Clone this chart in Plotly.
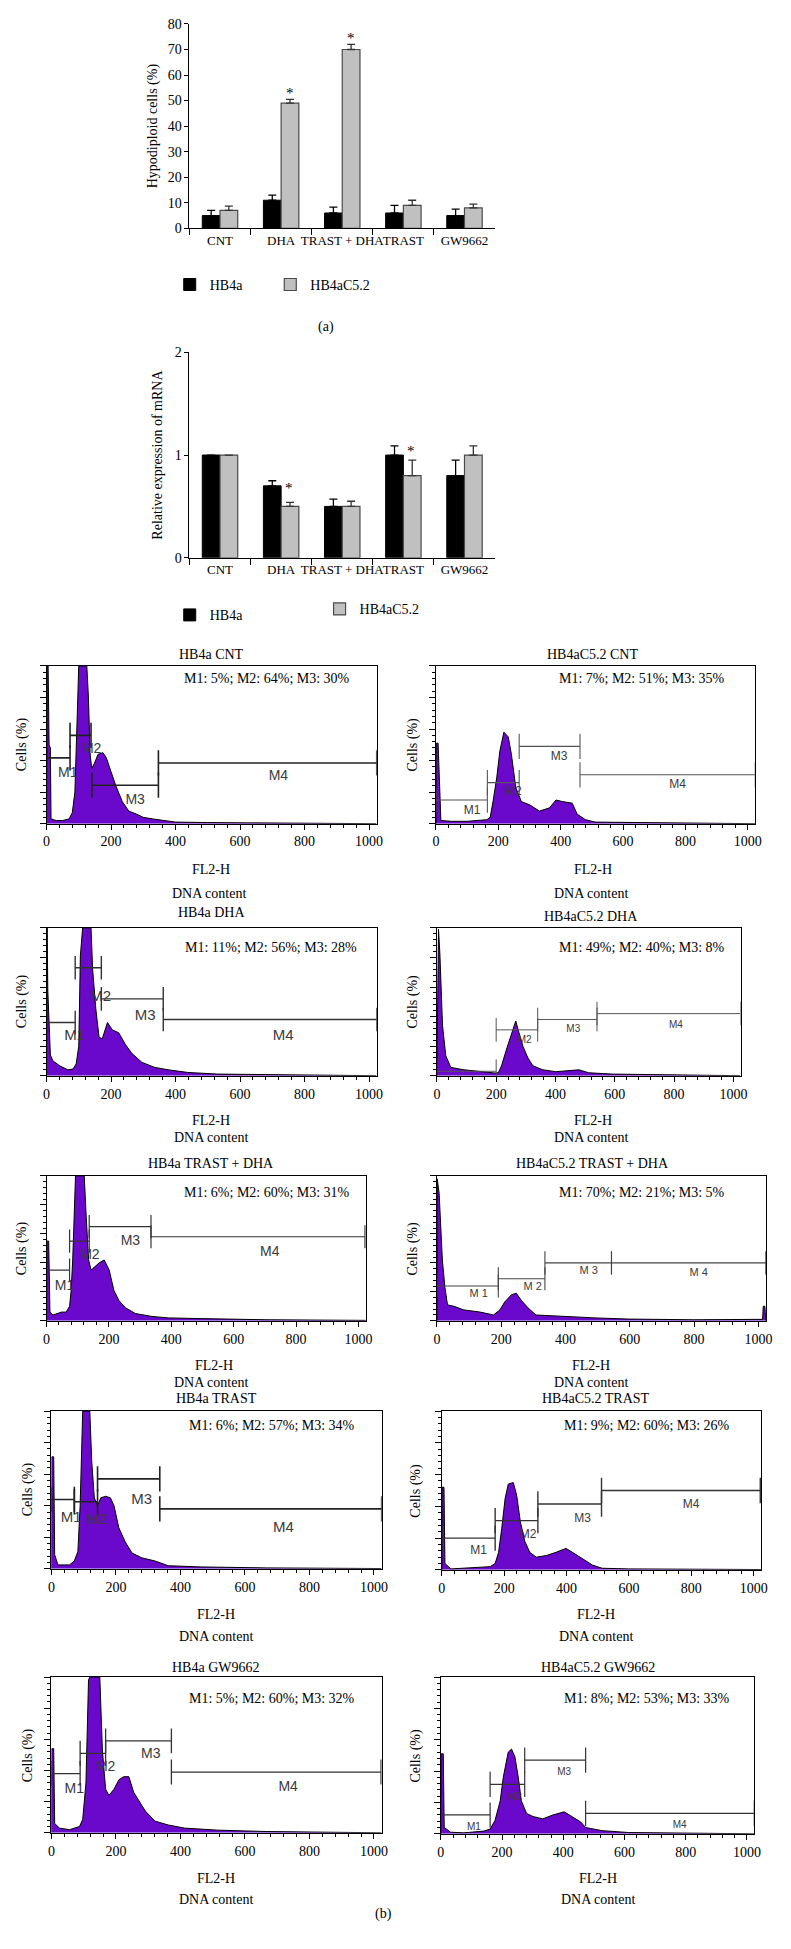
import plotly.graph_objects as go

W, H = 791, 1949
OFF = 8                      # default body margin of the html page
WF, HF = W - 2 * OFF, H - 2 * OFF
SERIF = "Liberation Serif"
SANS = "Liberation Sans"
PURPLE = "#6A08CC"

# ---------------- bar chart data ----------------
categories = ["CNT", "DHA", "TRAST + DHA", "TRAST", "GW9662"]
hypo_hb4a = [5, 11, 6, 6, 5]
hypo_hb4a_err = [2, 2, 2.3, 3, 2.5]
hypo_c52 = [7, 49, 70, 9, 8]
hypo_c52_err = [1.7, 1.5, 2, 2, 1.5]
mrna_hb4a = [1.0, 0.70, 0.50, 1.0, 0.80]
mrna_hb4a_err = [0, 0.05, 0.07, 0.09, 0.15]
mrna_c52 = [1.0, 0.50, 0.50, 0.80, 1.0]
mrna_c52_err = [0, 0.04, 0.05, 0.15, 0.09]
hypo_sig = ["DHA", "TRAST + DHA"]
hypo_sig_y = [53, 74.5]
mrna_sig = ["DHA", "TRAST"]
mrna_sig_y = [0.68, 1.04]

# ---------------- histogram data (channel, % of panel height) ----------------
hb4a_cnt_ch = [0, 2, 5, 8, 12, 14, 30, 50, 70, 80, 88, 95, 100, 125, 130, 135, 140, 148, 160, 175, 185, 200, 215, 235, 255, 280, 300, 330, 360, 400, 500, 700, 1023, 1023]
hb4a_cnt_pct = [0, 100, 100, 50, 48, 3, 2, 2, 3, 7, 20, 75, 100, 100, 80, 45, 35, 38, 44, 45, 42, 33, 24, 14, 8, 6, 4, 3, 2, 1, 0.7, 0.4, 0.2, 0]
hb4a_cnt_gates = [(0, 73, 41.7), (73, 138, 56), (141, 347, 24.4), (347, 1024, 38.5)]

c52_cnt_ch = [0, 1, 7, 16, 50, 100, 163, 174, 184, 195, 205, 218, 232, 242, 256, 274, 300, 332, 364, 385, 406, 437, 453, 480, 511, 616, 1023, 1023]
c52_cnt_pct = [0, 51, 51, 2, 1.5, 1.5, 2.5, 4, 15, 29, 46, 58, 55, 44, 23, 14, 12, 8, 10, 15, 14, 13, 6, 2.5, 1, 0.8, 0.3, 0]
c52_cnt_gates = [(0, 165, 15), (165, 267, 26), (267, 462, 49), (462, 1024, 31)]

hb4a_dha_ch = [0, 2, 4, 8, 12, 20, 41, 66, 82, 92, 100, 105, 112, 138, 143, 153, 163, 173, 189, 204, 224, 245, 265, 296, 336, 377, 438, 530, 683, 1023, 1023]
hb4a_dha_pct = [0, 100, 58, 40, 14, 10, 6.7, 4, 4.5, 8, 20, 81, 100, 100, 72, 45, 26, 25, 36, 31, 29, 21, 15, 9, 5.6, 4, 2.2, 1.1, 0.7, 0.2, 0]
hb4a_dha_gates = [(0, 89, 36), (89, 170, 73), (170, 362, 52), (362, 1024, 38)]

c52_dha_ch = [0, 3, 5.5, 10, 19, 30, 47, 91, 146, 196, 207, 218, 235, 252, 266, 277, 290, 307, 324, 357, 401, 479, 512, 590, 756, 1023, 1023]
c52_dha_pct = [0, 49, 99, 83, 34, 13.5, 5.6, 4, 2.7, 1.8, 2, 6.7, 18, 29, 37, 29, 20, 12, 6.7, 4, 2.7, 4, 2, 1.1, 0.7, 0.2, 0]
c52_dha_gates = [(0, 200, 3), (200, 340, 31), (340, 540, 38), (540, 1024, 42)]

hb4a_td_ch = [0, 1, 7, 11, 21, 48, 63, 74, 79, 84, 93, 121, 127, 135, 143, 153, 169, 185, 201, 216, 232, 253, 285, 338, 391, 496, 707, 1023, 1023]
hb4a_td_pct = [0, 55, 55, 6, 4, 6, 6, 10, 21, 42, 100, 100, 73, 42, 35, 37, 40, 42, 35, 21, 14, 9, 5, 3, 2, 1.5, 0.7, 0.3, 0]
hb4a_td_gates = [(0, 74, 35), (74, 137, 55), (137, 335, 65), (335, 1021, 58)]

c52_td_ch = [0, 1, 7, 12, 17, 25, 33, 53, 84, 135, 176, 196, 211, 232, 247, 263, 283, 308, 390, 492, 594, 799, 1013, 1015, 1020, 1023]
c52_td_pct = [0, 98, 88, 60, 42, 23, 11, 10, 7.5, 6, 4, 7.5, 13, 18, 19, 14, 9, 4, 3, 2, 1.2, 0.7, 1, 10, 10, 0]
c52_td_gates = [(0, 191, 24), (191, 336, 29), (336, 543, 40), (543, 1023, 40)]

hb4a_trast_ch = [0, 1, 7, 10, 20, 56, 71, 82, 89, 97, 119, 125, 133, 143, 153, 168, 183, 194, 209, 229, 250, 280, 321, 362, 464, 668, 1023, 1023]
hb4a_trast_pct = [0, 71, 71, 9, 2.5, 2.5, 5, 11, 40, 100, 100, 68, 45, 40, 45, 46, 45, 40, 26, 17, 10, 7, 5, 2, 1.2, 0.6, 0.2, 0]
hb4a_trast_gates = [(0, 71, 44), (71, 143, 42.5), (143, 336, 57), (336, 1024, 38)]

c52_trast_ch = [0, 1, 7, 10, 29, 71, 155, 171, 182, 192, 203, 213, 229, 240, 252, 266, 282, 303, 335, 366, 398, 419, 451, 483, 514, 599, 1023, 1023]
c52_trast_pct = [0, 52, 52, 4, 0.6, 1, 2, 4, 11, 26, 45, 54, 55, 47, 30, 18, 11, 8, 9, 11, 13.5, 11, 7, 3, 1, 0.6, 0.2, 0]
c52_trast_gates = [(0, 171, 20), (171, 308, 31), (308, 512, 41.5), (512, 1021, 50)]

hb4a_gw_ch = [0, 1, 7, 10, 25, 56, 87, 97, 107, 115, 119, 150, 158, 168, 178, 194, 209, 224, 240, 255, 270, 291, 321, 362, 413, 515, 668, 1023, 1023]
hb4a_gw_pct = [0, 54, 54, 6, 3, 2, 4, 8.5, 32, 98, 100, 100, 53, 28, 24, 28, 34, 36, 36, 26, 21, 14, 7.5, 5, 3, 1.7, 0.8, 0.3, 0]
hb4a_gw_gates = [(0, 89, 38), (89, 168, 51), (168, 372, 59), (372, 1022, 39)]

c52_gw_ch = [0, 1, 8, 11, 32, 75, 140, 161, 177, 194, 204, 220, 231, 242, 253, 263, 280, 301, 333, 366, 403, 430, 457, 473, 505, 527, 613, 1023, 1023]
c52_gw_pct = [0, 51, 51, 4, 1, 0.6, 1.7, 3, 8.5, 21, 36, 52, 54, 49, 36, 21, 13, 11, 9.5, 12, 14, 11, 7.5, 4, 3, 2, 0.8, 0.3, 0]
c52_gw_gates = [(0, 161, 12), (161, 274, 31.5), (274, 473, 47), (473, 1024, 13)]

# ---------------- panel layout (pixel boxes, text spots) ----------------
panels = [
    dict(title="HB4a CNT", stats="M1: 5%; M2: 64%; M3: 30%", ch=hb4a_cnt_ch, pct=hb4a_cnt_pct, gates=hb4a_cnt_gates,
         labels=[("M1", 66, 32), ("M2", 140, 47), ("M3", 275, 15), ("M4", 719, 30)],
         box=(43, 378, 664, 823), t=(210, 653), s=(267, 677), f=(210, 869), d=(208, 893), c=(18, 743),
         gcol="#222222", gw=1.6, lfs=14),
    dict(title="HB4aC5.2 CNT", stats="M1: 7%; M2: 51%; M3: 35%", ch=c52_cnt_ch, pct=c52_cnt_pct, gates=c52_cnt_gates,
         labels=[("M1", 116, 8), ("M2", 248, 20), ("M3", 395, 42), ("M4", 775, 24.5)],
         box=(438, 762, 664, 823), t=(597, 653), s=(647, 677), f=(597, 869), d=(595, 893), c=(415, 743),
         gcol="#555555", gw=1.1, lfs=12),
    dict(title="HB4a DHA", stats="M1: 11%; M2: 56%; M3: 28%", ch=hb4a_dha_ch, pct=hb4a_dha_pct, gates=hb4a_dha_gates,
         labels=[("M1", 87, 27), ("M2", 168, 53), ("M3", 306, 40), ("M4", 734, 27)],
         box=(43, 378, 928, 1077), t=(210, 913), s=(271, 948), f=(210, 1122), d=(210, 1139), c=(18, 1002),
         gcol="#333333", gw=1.4, lfs=15),
    dict(title="HB4aC5.2 DHA", stats="M1: 49%; M2: 40%; M3: 8%", ch=c52_dha_ch, pct=c52_dha_pct, gates=c52_dha_gates,
         labels=[("M2", 296, 24), ("M3", 460, 31), ("M4", 806, 34)],
         box=(439, 747, 928, 1077), t=(595, 917), s=(647, 948), f=(597, 1122), d=(595, 1139), c=(415, 1002),
         gcol="#555555", gw=1.0, lfs=10),
    dict(title="HB4a TRAST + DHA", stats="M1: 6%; M2: 60%; M3: 31%", ch=hb4a_td_ch, pct=hb4a_td_pct, gates=hb4a_td_gates,
         labels=[("M1", 58, 24), ("M2", 139, 45), ("M3", 269, 55), ("M4", 716, 47)],
         box=(43, 367, 1178, 1324), t=(210, 1165), s=(267, 1195), f=(213, 1369), d=(210, 1386), c=(18, 1251),
         gcol="#333333", gw=1.2, lfs=14),
    dict(title="HB4aC5.2 TRAST + DHA", stats="M1: 70%; M2: 21%; M3: 5%", ch=c52_td_ch, pct=c52_td_pct, gates=c52_td_gates,
         labels=[("M 1", 130, 18), ("M 2", 298, 23), ("M 3", 472, 34), ("M 4", 814, 33)],
         box=(439, 773, 1178, 1324), t=(597, 1165), s=(647, 1195), f=(595, 1369), d=(595, 1386), c=(415, 1251),
         gcol="#444444", gw=1.1, lfs=11),
    dict(title="HB4a TRAST", stats="M1: 6%; M2: 57%; M3: 34%", ch=hb4a_trast_ch, pct=hb4a_trast_pct, gates=hb4a_trast_gates,
         labels=[("M1", 61, 32), ("M2", 141, 31), ("M3", 280, 43.5), ("M4", 719, 26)],
         box=(48, 383, 1415, 1574), t=(215, 1402), s=(272, 1430), f=(215, 1620), d=(215, 1642), c=(25, 1494),
         gcol="#222222", gw=1.6, lfs=15),
    dict(title="HB4aC5.2 TRAST", stats="M1: 9%; M2: 60%; M3: 26%", ch=c52_trast_ch, pct=c52_trast_pct, gates=c52_trast_gates,
         labels=[("M1", 118, 12), ("M2", 277, 22), ("M3", 451, 32), ("M4", 799, 41)],
         box=(444, 768, 1415, 1575), t=(600, 1402), s=(652, 1430), f=(600, 1620), d=(600, 1642), c=(418, 1495),
         gcol="#333333", gw=1.4, lfs=12),
    dict(title="HB4a GW9662", stats="M1: 5%; M2: 60%; M3: 32%", ch=hb4a_gw_ch, pct=hb4a_gw_pct, gates=hb4a_gw_gates,
         labels=[("M1", 71, 28), ("M2", 168, 42), ("M3", 308, 50), ("M4", 734, 29)],
         box=(48, 383, 1683, 1840), t=(215, 1673), s=(272, 1705), f=(215, 1886), d=(215, 1907), c=(25, 1762),
         gcol="#333333", gw=1.3, lfs=14),
    dict(title="HB4aC5.2 GW9662", stats="M1: 8%; M2: 53%; M3: 33%", ch=c52_gw_ch, pct=c52_gw_pct, gates=c52_gw_gates,
         labels=[("M1", 108, 4), ("M2", 242, 23), ("M3", 403, 39), ("M4", 780, 5)],
         box=(443, 761, 1683, 1841), t=(602, 1673), s=(652, 1705), f=(602, 1886), d=(602, 1907), c=(418, 1762),
         gcol="#333333", gw=1.2, lfs=10),
]


def px(x):
    return (x - OFF) / WF


def py(y):
    return 1 - (y - OFF) / HF


def dx(x0, x1):
    return [px(x0), px(x1)]


def dy(y0, y1):
    return [py(y1), py(y0)]


fig = go.Figure()
annotations = []
layout = {}

# ---------------- chart (a) ----------------
fig.add_trace(go.Bar(x=categories, y=hypo_hb4a, name="HB4a", marker=dict(color="black", line=dict(color="black", width=1)),
                     error_y=dict(type="data", symmetric=False, array=hypo_hb4a_err, arrayminus=[0] * 5,
                                  color="black", thickness=1.3, width=4),
                     xaxis="x", yaxis="y", legend="legend"))
fig.add_trace(go.Bar(x=categories, y=hypo_c52, name="HB4aC5.2", marker=dict(color="#C0C0C0", line=dict(color="#4a4a4a", width=1.2)),
                     error_y=dict(type="data", symmetric=False, array=hypo_c52_err, arrayminus=[0] * 5,
                                  color="#333333", thickness=1.3, width=4),
                     xaxis="x", yaxis="y", legend="legend2"))

# ---------------- chart (b) ----------------
fig.add_trace(go.Bar(x=categories, y=mrna_hb4a, name="HB4a", marker=dict(color="black", line=dict(color="black", width=1)),
                     error_y=dict(type="data", symmetric=False, array=mrna_hb4a_err, arrayminus=[0] * 5,
                                  color="black", thickness=1.3, width=4),
                     xaxis="x2", yaxis="y2", legend="legend3"))
fig.add_trace(go.Bar(x=categories, y=mrna_c52, name="HB4aC5.2", marker=dict(color="#C0C0C0", line=dict(color="#4a4a4a", width=1.2)),
                     error_y=dict(type="data", symmetric=False, array=mrna_c52_err, arrayminus=[0] * 5,
                                  color="#333333", thickness=1.3, width=4),
                     xaxis="x2", yaxis="y2", legend="legend4"))

bar_x = dict(type="category", tickson="boundaries", ticks="outside", ticklen=6, tickcolor="black", tickangle=0,
             showline=True, linecolor="black", linewidth=1, showgrid=False, zeroline=False,
             tickfont=dict(family=SERIF, size=13, color="black"))
layout["xaxis"] = dict(bar_x, domain=dx(188, 498), anchor="y")
layout["yaxis"] = dict(domain=dy(17, 223), anchor="x", range=[0, 80], dtick=10, ticks="outside", ticklen=4,
                       tickcolor="black", showline=True, linecolor="black", linewidth=1, showgrid=False, zeroline=False,
                       tickfont=dict(family=SERIF, size=14, color="black"),
                       title=dict(text="Hypodiploid cells (%)", font=dict(family=SERIF, size=14, color="black"), standoff=6))
layout["xaxis2"] = dict(bar_x, domain=dx(188, 498), anchor="y2")
layout["yaxis2"] = dict(domain=dy(348, 555), anchor="x2", range=[0, 2], dtick=1, ticks="outside", ticklen=4,
                        tickcolor="black", showline=True, linecolor="black", linewidth=1, showgrid=False, zeroline=False,
                        tickfont=dict(family=SERIF, size=14, color="black"),
                        title=dict(text="Relative expression of mRNA", font=dict(family=SERIF, size=14, color="black"), standoff=8))

for c, yv in zip(hypo_sig, hypo_sig_y):
    annotations.append(dict(x=c, y=yv, xref="x", yref="y", text="*", showarrow=False, xshift=9,
                            font=dict(family=SERIF, size=15, color="black"), yanchor="middle"))
for c, yv in zip(mrna_sig, mrna_sig_y):
    annotations.append(dict(x=c, y=yv, xref="x2", yref="y2", text="*", showarrow=False, xshift=8,
                            font=dict(family=SERIF, size=15, color="black"), yanchor="middle"))

leg_common = dict(xanchor="left", yanchor="middle", font=dict(family=SERIF, size=14, color="black"),
                  bgcolor="rgba(0,0,0,0)", itemwidth=30, borderwidth=0)
layout["legend"] = dict(leg_common, x=px(168), y=py(280))
layout["legend2"] = dict(leg_common, x=px(270), y=py(280))
layout["legend3"] = dict(leg_common, x=px(168), y=py(613))
layout["legend4"] = dict(leg_common, x=px(320), y=py(607))

annotations.append(dict(x=px(327), y=py(312), xref="paper", yref="paper", text="(a)", showarrow=False,
                        font=dict(family=SERIF, size=14, color="black")))
annotations.append(dict(x=px(385), y=py(1932), xref="paper", yref="paper", text="(b)", showarrow=False,
                        font=dict(family=SERIF, size=14, color="black")))

# ---------------- histograms ----------------
TK = 8
for i, p in enumerate(panels):
    k = i + 3
    xa, ya = f"x{k}", f"y{k}"
    fig.add_trace(go.Scatter(x=p["ch"], y=p["pct"], mode="lines", line=dict(color="black", width=1),
                             fill="tozeroy", fillcolor=PURPLE, xaxis=xa, yaxis=ya, showlegend=False, hoverinfo="skip"))
    gx, gy = [], []
    for (a, b, lv) in p["gates"]:
        gx += [a, b, None, a, a, None, b, b, None]
        gy += [lv, lv, None, lv - TK, lv + TK, None, lv - TK, lv + TK, None]
    fig.add_trace(go.Scatter(x=gx, y=gy, mode="lines", line=dict(color=p["gcol"], width=p["gw"]),
                             xaxis=xa, yaxis=ya, showlegend=False, hoverinfo="skip", cliponaxis=False))
    fig.add_trace(go.Scatter(x=[l[1] for l in p["labels"]], y=[l[2] for l in p["labels"]],
                             text=[l[0] for l in p["labels"]], mode="text",
                             textfont=dict(family=SANS, size=p["lfs"], color="#3a3a3a"),
                             xaxis=xa, yaxis=ya, showlegend=False, hoverinfo="skip"))
    x0, x1, y0, y1 = p["box"]
    layout[f"xaxis{k}"] = dict(domain=dx(x0, x1), anchor=ya, range=[0, 1024], tickmode="linear", tick0=0, dtick=200,
                               ticks="outside", ticklen=5, tickcolor="black", showline=True, linecolor="black",
                               linewidth=1, mirror=True, showgrid=False, zeroline=False,
                               tickfont=dict(family=SERIF, size=14, color="black"),
                               minor=dict(tick0=0, dtick=40, ticks="outside", ticklen=3, tickcolor="black", showgrid=False))
    layout[f"yaxis{k}"] = dict(domain=dy(y0, y1), anchor=xa, range=[0, 100], tickmode="linear", tick0=0, dtick=20,
                               ticks="outside", ticklen=6, tickcolor="black", showticklabels=False,
                               showline=True, linecolor="black", linewidth=1, mirror=True, showgrid=False, zeroline=False,
                               minor=dict(tick0=0, dtick=4, ticks="outside", ticklen=3, tickcolor="black", showgrid=False))
    for key, txt in (("t", p["title"]), ("s", p["stats"]), ("f", "FL2-H"), ("d", "DNA content")):
        xx, yy = p[key]
        annotations.append(dict(x=px(xx), y=py(yy), xref="paper", yref="paper", text=txt, showarrow=False,
                                xanchor="center", yanchor="middle",
                                font=dict(family=SERIF, size=14, color="black")))
    cx, cy = p["c"]
    annotations.append(dict(x=px(cx), y=py(cy), xref="paper", yref="paper", text="Cells (%)", showarrow=False,
                            textangle=-90, xanchor="center", yanchor="middle",
                            font=dict(family=SERIF, size=14, color="black")))

fig.update_layout(width=WF, height=HF, margin=dict(l=0, r=0, t=0, b=0), paper_bgcolor="white", plot_bgcolor="white",
                  barmode="group", bargap=0.42, bargroupgap=0, annotations=annotations, **layout)

fig.write_html("out.html")
